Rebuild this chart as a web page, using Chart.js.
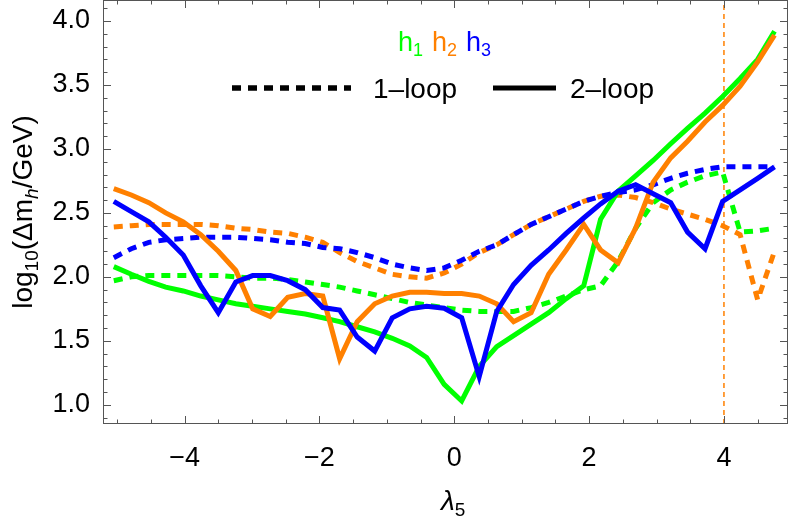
<!DOCTYPE html>
<html>
<head>
<meta charset="utf-8">
<script src="https://cdn.jsdelivr.net/npm/chart.js@4"></script>
<style>
  html, body { margin: 0; padding: 0; background: #fff; }
  canvas { display: block; }
</style>
</head>
<body>
<canvas id="chart" width="789" height="524"></canvas>
<script>
// lambda_5 scan points
const lambda = [-5.05, -4.79, -4.53, -4.28, -4.02, -3.76, -3.50, -3.24, -2.99, -2.73,
  -2.47, -2.21, -1.95, -1.70, -1.44, -1.18, -0.92, -0.66, -0.41, -0.15,
  0.11, 0.37, 0.63, 0.88, 1.14, 1.40, 1.66, 1.92, 2.17, 2.43,
  2.69, 2.95, 3.21, 3.46, 3.72, 3.98, 4.24, 4.50, 4.75];

// log10(Delta m_h / GeV), 1-loop (dashed)
const h1OneLoop = [1.97, 2.00, 2.01, 2.01, 2.01, 2.01, 2.01, 2.00, 1.99, 1.99,
  1.98, 1.96, 1.94, 1.92, 1.89, 1.86, 1.83, 1.80, 1.78, 1.76,
  1.74, 1.73, 1.73, 1.73, 1.76, 1.80, 1.85, 1.90, 1.93, 2.12,
  2.38, 2.58, 2.68, 2.74, 2.79, 2.82, 2.35, 2.36, 2.38];
const h2OneLoop = [2.39, 2.40, 2.41, 2.41, 2.41, 2.41, 2.40, 2.38, 2.37, 2.35,
  2.34, 2.31, 2.27, 2.19, 2.12, 2.07, 2.02, 2.00, 1.99, 2.03,
  2.10, 2.19, 2.25, 2.33, 2.41, 2.47, 2.53, 2.59, 2.63, 2.64,
  2.62, 2.58, 2.53, 2.49, 2.45, 2.40, 2.33, 1.82, 2.20];
const h3OneLoop = [2.15, 2.22, 2.27, 2.29, 2.30, 2.31, 2.31, 2.31, 2.30, 2.29,
  2.27, 2.26, 2.23, 2.22, 2.19, 2.15, 2.10, 2.07, 2.05, 2.07,
  2.13, 2.20, 2.25, 2.33, 2.41, 2.47, 2.53, 2.59, 2.63, 2.66,
  2.68, 2.72, 2.77, 2.81, 2.84, 2.86, 2.86, 2.86, 2.86];

// 2-loop (solid)
const h1TwoLoop = [2.08, 2.02, 1.965, 1.92, 1.89, 1.85, 1.82, 1.79, 1.77, 1.75,
  1.73, 1.71, 1.68, 1.65, 1.61, 1.57, 1.52, 1.46, 1.37, 1.16,
  1.03, 1.30, 1.455, 1.54, 1.63, 1.72, 1.83, 1.93, 2.45, 2.67,
  2.79, 2.91, 3.04, 3.16, 3.28, 3.41, 3.55, 3.70, 3.92];
const h2TwoLoop = [2.69, 2.64, 2.58, 2.50, 2.43, 2.33, 2.20, 2.05, 1.75, 1.69,
  1.84, 1.87, 1.85, 1.36, 1.65, 1.79, 1.85, 1.88, 1.88, 1.87,
  1.87, 1.85, 1.79, 1.65, 1.72, 2.02, 2.21, 2.41, 2.21, 2.11,
  2.38, 2.74, 2.93, 3.06, 3.21, 3.34, 3.49, 3.68, 3.89];
const h3TwoLoop = [2.59, 2.51, 2.43, 2.31, 2.17, 1.93, 1.72, 1.96, 2.01, 2.01,
  1.97, 1.90, 1.76, 1.74, 1.53, 1.42, 1.68, 1.75, 1.77, 1.755,
  1.68, 1.22, 1.73, 1.94, 2.09, 2.21, 2.34, 2.46, 2.57, 2.67,
  2.72, 2.65, 2.58, 2.35, 2.22, 2.59, 2.68, 2.77, 2.86];

const cutLambda = 4;
const xRange = [-5.21, 4.95];
const yRange = [0.85, 4.164];
const xTicks = [-4, -2, 0, 2, 4];
const yTicks = [1.0, 1.5, 2.0, 2.5, 3.0, 3.5, 4.0];

const GREEN = "#00ff00", ORANGE = "#ff8000", BLUE = "#0000ff";
const FONT = "'Liberation Sans', Arial, sans-serif";

function pts(ys) {
  return ys.map((y, i) => ({ x: lambda[i], y: y }));
}

function series(ys, color, dashed, order) {
  return {
    data: pts(ys),
    borderColor: color,
    borderWidth: 5,
    borderDash: dashed ? [9, 7] : [],
    pointRadius: 0,
    tension: 0,
    fill: false,
    order: order
  };
}

// frame, inward ticks, axis titles and the legend
const decorations = {
  id: "decorations",
  afterDraw(chart) {
    const ctx = chart.ctx;
    const a = chart.chartArea;
    const xs = chart.scales.x, ys = chart.scales.y;
    ctx.save();
    ctx.strokeStyle = "#555";
    ctx.lineWidth = 1;
    ctx.strokeRect(a.left + 0.5, a.top + 0.5, a.right - a.left - 1, a.bottom - a.top - 1);
    ctx.beginPath();
    for (let i = -10; i <= 9; i++) {
      const v = i * 0.5;
      const px = Math.round(xs.getPixelForValue(v)) + 0.5;
      if (px < a.left || px > a.right) continue;
      const len = (i % 4 === 0) ? 8 : 4.5;
      ctx.moveTo(px, a.bottom); ctx.lineTo(px, a.bottom - len);
      ctx.moveTo(px, a.top); ctx.lineTo(px, a.top + len);
    }
    for (let i = 9; i <= 41; i++) {
      const v = i / 10;
      const py = Math.round(ys.getPixelForValue(v)) + 0.5;
      if (py < a.top || py > a.bottom) continue;
      const len = (i % 5 === 0) ? 8 : 4.5;
      ctx.moveTo(a.left, py); ctx.lineTo(a.left + len, py);
      ctx.moveTo(a.right, py); ctx.lineTo(a.right - len, py);
    }
    ctx.stroke();

    // y title: log10(Δm_h/GeV)
    const big = "28px " + FONT, small = "19px " + FONT, smallIt = "italic 19px " + FONT;
    const parts = [
      ["log", big, 0], ["10", small, 6], ["(\u0394m", big, 0],
      ["h", smallIt, 6], ["/GeV)", big, 0]
    ];
    ctx.fillStyle = "#000";
    ctx.textBaseline = "alphabetic";
    ctx.textAlign = "left";
    let total = 0;
    parts.forEach(p => { ctx.font = p[1]; total += ctx.measureText(p[0]).width; });
    ctx.translate(32, 212);
    ctx.rotate(-Math.PI / 2);
    let cx = -total / 2;
    parts.forEach(p => {
      ctx.font = p[1];
      ctx.fillText(p[0], cx, p[2]);
      cx += ctx.measureText(p[0]).width;
    });
    ctx.setTransform(1, 0, 0, 1, 0, 0);

    // x title: λ5
    ctx.font = "italic 28px " + FONT;
    const lw = ctx.measureText("\u03bb").width;
    ctx.fillText("\u03bb", 441, 510);
    ctx.font = "19px " + FONT;
    ctx.fillText("5", 441 + lw, 516);

    // legend: h1 h2 h3
    const hs = [["1", GREEN, 398], ["2", ORANGE, 432], ["3", BLUE, 466]];
    hs.forEach(h => {
      ctx.fillStyle = h[1];
      ctx.font = "27px " + FONT;
      ctx.fillText("h", h[2], 51);
      const w = ctx.measureText("h").width;
      ctx.font = "18px " + FONT;
      ctx.fillText(h[0], h[2] + w, 56);
    });

    // legend: line styles
    ctx.strokeStyle = "#000";
    ctx.lineWidth = 5.5;
    ctx.setLineDash([9, 7]);
    ctx.beginPath(); ctx.moveTo(232, 88); ctx.lineTo(351, 88); ctx.stroke();
    ctx.setLineDash([]);
    ctx.lineWidth = 5;
    ctx.beginPath(); ctx.moveTo(493, 88); ctx.lineTo(556, 88); ctx.stroke();
    ctx.fillStyle = "#000";
    ctx.font = "28px " + FONT;
    ctx.fillText("1\u2013loop", 373, 98);
    ctx.fillText("2\u2013loop", 570, 98);
    ctx.restore();
  }
};

new Chart(document.getElementById("chart").getContext("2d"), {
  type: "line",
  data: {
    datasets: [
      {
        data: [{ x: cutLambda, y: yRange[0] }, { x: cutLambda, y: yRange[1] }],
        borderColor: ORANGE, borderWidth: 1.5, borderDash: [5, 4],
        pointRadius: 0, order: 7
      },
      series(h1OneLoop, GREEN, true, 6),
      series(h2OneLoop, ORANGE, true, 5),
      series(h3OneLoop, BLUE, true, 4),
      series(h1TwoLoop, GREEN, false, 3),
      series(h2TwoLoop, ORANGE, false, 2),
      series(h3TwoLoop, BLUE, false, 1)
    ]
  },
  options: {
    responsive: false,
    animation: false,
    devicePixelRatio: 1,
    layout: { padding: { top: 0, right: 1, left: 0, bottom: 0 } },
    plugins: { legend: { display: false }, tooltip: { enabled: false } },
    scales: {
      x: {
        type: "linear",
        min: xRange[0], max: xRange[1],
        afterBuildTicks: s => { s.ticks = xTicks.map(v => ({ value: v })); },
        afterFit: s => { s.height = 100; s.paddingLeft = 0; s.paddingRight = 0; },
        grid: { display: false, drawTicks: false },
        border: { display: false },
        ticks: {
          padding: 18,
          color: "#000",
          font: { family: FONT, size: 27 },
          maxRotation: 0,
          callback: v => v < 0 ? "\u2212" + (-v) : String(v)
        }
      },
      y: {
        type: "linear",
        min: yRange[0], max: yRange[1],
        afterBuildTicks: s => { s.ticks = yTicks.map(v => ({ value: v })); },
        afterFit: s => { s.width = 103; s.paddingTop = 0; s.paddingBottom = 0; },
        grid: { display: false, drawTicks: false },
        border: { display: false },
        ticks: {
          padding: 13,
          color: "#000",
          font: { family: FONT, size: 27 },
          callback: v => v.toFixed(1)
        }
      }
    }
  },
  plugins: [decorations]
});
</script>
</body>
</html>
